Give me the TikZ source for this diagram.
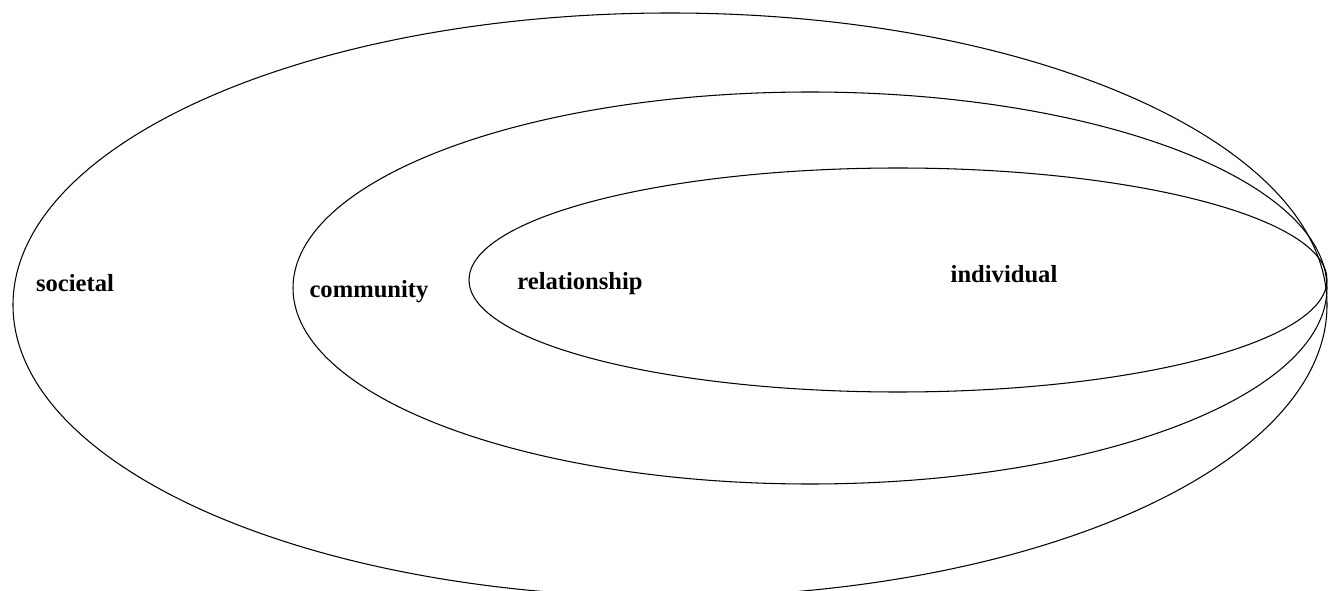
\documentclass[tikz,border=0pt]{standalone}
\usepackage{fontspec}
\setmainfont{Liberation Serif}
\usetikzlibrary{positioning}
\tikzset{ring/.style={draw=black, line width=0.6pt},
	level/.style={anchor=base, font=\fontsize{14}{16}\selectfont\bfseries, inner sep=0pt}}

\begin{document}
\begin{tikzpicture}
	\useasboundingbox (0,0) rectangle (26.58,11.8);
	\clip (0,0) rectangle (26.58,11.8);
	
	% outer ring
	\draw[ring] (13.4,5.7) ellipse (13.14cm and 5.84cm);
	
	% middle ring
	\draw[ring] (16.2,6.04) ellipse (10.34cm and 3.92cm);
	
	% inner ring
	\draw[ring] (17.96,6.2) ellipse (8.58cm and 2.24cm);
	
	% labels
	\node[level] (societal) at (1.5,5.96) {societal};
	\node[level] (community) at (7.38,5.84) {community};
	\node[level] (relationship) at (11.6,6.0) {relationship};
	\node[level] (individual) at (20.08,6.14) {individual};
\end{tikzpicture}
\end{document}
